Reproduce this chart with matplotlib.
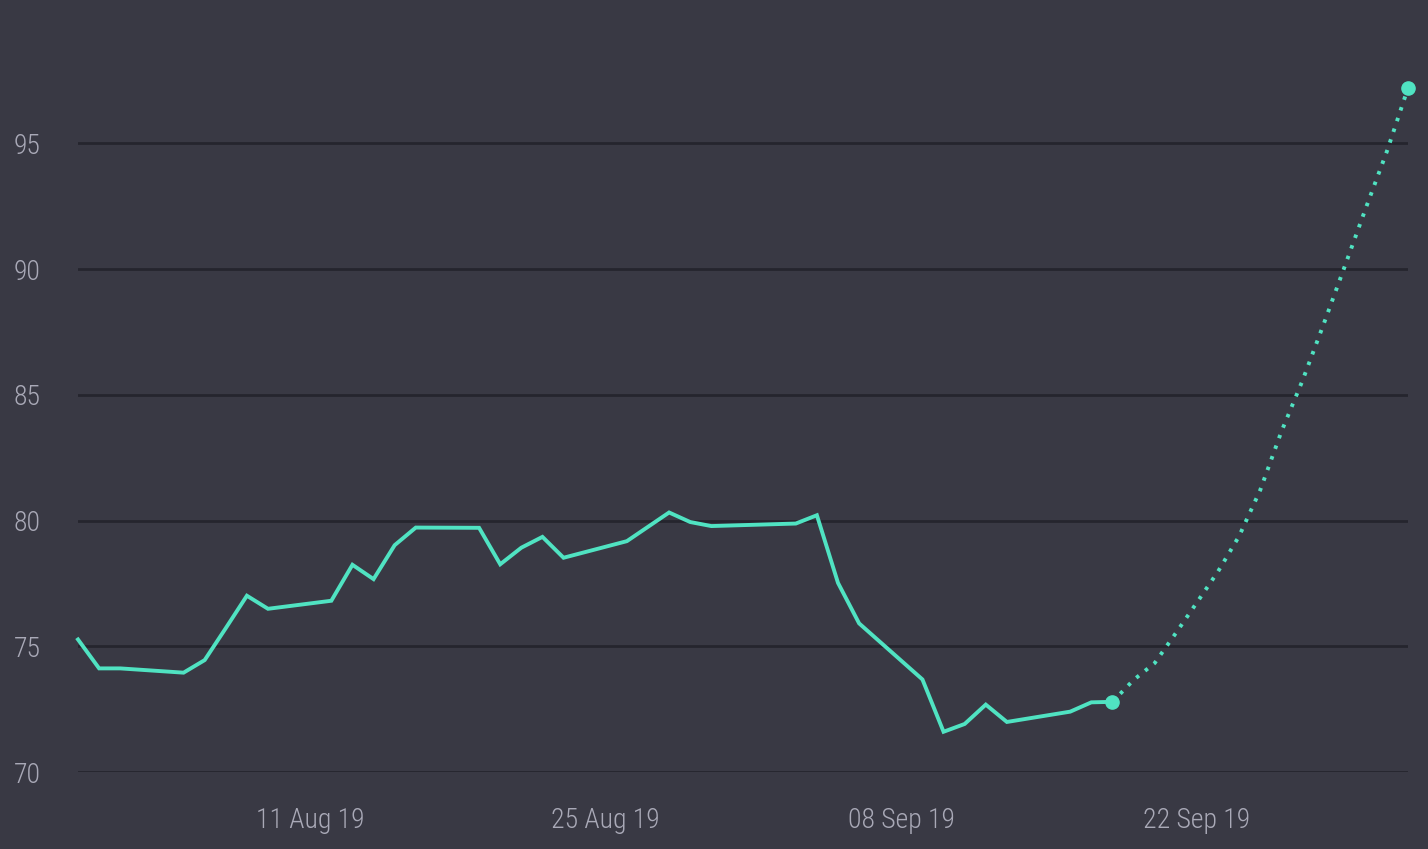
"""Price history with a dotted forecast tail, dark theme."""

#%% Imports
import datetime as dt

import matplotlib
matplotlib.use('Agg')
import matplotlib.pyplot as plt
import matplotlib.dates as mdates

#%% Data

# actual observations
actual_dates = ['2019-07-31', '2019-08-01', '2019-08-02', '2019-08-05', '2019-08-06',
                '2019-08-07', '2019-08-08', '2019-08-09', '2019-08-12', '2019-08-13',
                '2019-08-14', '2019-08-15', '2019-08-16', '2019-08-19', '2019-08-20',
                '2019-08-21', '2019-08-22', '2019-08-23', '2019-08-26', '2019-08-27',
                '2019-08-28', '2019-08-29', '2019-08-30', '2019-09-03', '2019-09-04',
                '2019-09-05', '2019-09-06', '2019-09-09', '2019-09-10', '2019-09-11',
                '2019-09-12', '2019-09-13', '2019-09-16', '2019-09-17', '2019-09-18']
actual_values = [75.27, 74.12, 74.12, 73.95, 74.45,
                 75.72, 77.01, 76.49, 76.81, 78.24,
                 77.67, 79.02, 79.72, 79.71, 78.26,
                 78.92, 79.35, 78.52, 79.18, 79.75,
                 80.32, 79.94, 79.78, 79.88, 80.21,
                 77.52, 75.91, 73.68, 71.60, 71.91,
                 72.68, 71.99, 72.40, 72.77, 72.79]

# forecast tail
forecast_dates = ['2019-09-18', '2019-09-19', '2019-09-20', '2019-09-21', '2019-09-22',
                  '2019-09-23', '2019-09-24', '2019-09-25', '2019-09-26', '2019-09-27',
                  '2019-09-28', '2019-09-29', '2019-09-30', '2019-10-01', '2019-10-02']
forecast_values = [72.79, 73.66, 74.33, 75.52, 76.74,
                   77.97, 79.38, 81.21, 83.53, 85.56,
                   87.80, 90.10, 92.42, 94.68, 97.20]

y_ticks = [70, 75, 80, 85, 90, 95]
x_ticks = ['2019-08-11', '2019-08-25', '2019-09-08', '2019-09-22']

#%% Style
bg = '#393944'
grid_col = '#25252e'
text_col = '#a9a9b7'
line_col = '#50e3c2'

# condensed face if there is one, otherwise whatever sans is around
plt.rcParams['font.family'] = ['Roboto Condensed', 'Noto Sans', 'Roboto', 'DejaVu Sans']
plt.rcParams['font.stretch'] = 'condensed'
plt.rcParams['font.weight'] = 'light'

to_dt = lambda s: dt.datetime.strptime(s, '%Y-%m-%d')
ad = [to_dt(d) for d in actual_dates]
fd = [to_dt(d) for d in forecast_dates]

#%% Plot
W, H = 1428, 849
fig = plt.figure(figsize=(W / 100, H / 100), dpi=100, facecolor=bg)
ax = fig.add_axes([78 / W, (H - 772) / H, (1408 - 78) / W, (772 - 88) / H])
ax.set_facecolor(bg)

ax.plot(ad, actual_values, color=line_col, lw=2.8, solid_joinstyle='miter', clip_on=False, zorder=3)
ax.plot(fd, forecast_values, color=line_col, lw=2.8, linestyle=(0, (0.9, 2.0)),
        dash_capstyle='butt', clip_on=False, zorder=3)
ax.plot([fd[0], fd[-1]], [forecast_values[0], forecast_values[-1]], 'o',
        color=line_col, ms=9.5, clip_on=False, zorder=4)

ax.set_xlim(to_dt('2019-07-31'), to_dt('2019-10-02'))
ax.set_ylim(70, forecast_values[-1])

ax.set_yticks(y_ticks)
ax.set_xticks([to_dt(d) for d in x_ticks])
ax.xaxis.set_major_formatter(mdates.DateFormatter('%d %b %y'))
ax.yaxis.grid(True, color=grid_col, lw=2)
ax.set_axisbelow(True)
ax.tick_params(length=0, labelsize=20, colors=text_col)
ax.tick_params(axis='y', pad=27)
ax.tick_params(axis='x', pad=25)
for s in ax.spines.values():
    s.set_visible(False)

fig.savefig('out.png', dpi=100, facecolor=bg)
